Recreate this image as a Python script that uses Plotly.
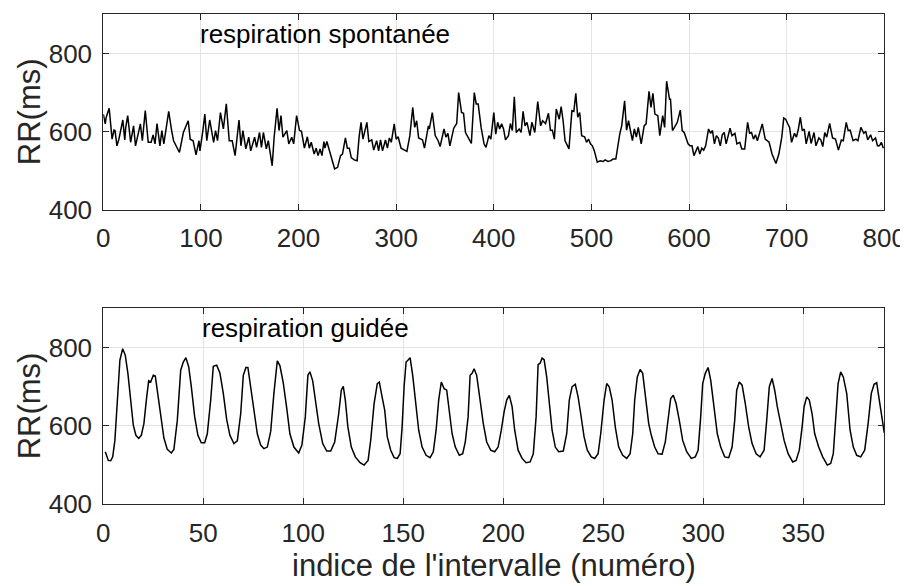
import plotly.graph_objects as go

# ---------------- data: spontaneous breathing (top) ----------------
spont_idx = [0, 2, 3, 6, 9, 11, 12, 14, 16, 18, 20, 22, 23, 25, 28, 31, 33, 38, 40, 43,
             46, 49, 51, 53, 55, 58, 60, 62, 63, 67, 70, 72, 78, 82, 87, 89, 92, 95, 98, 99,
             102, 104, 106, 109, 113, 115, 117, 120, 123, 126, 129, 132, 135, 139, 141, 143,
             146, 149, 151, 155, 157, 160, 162, 164, 167, 169, 173, 175, 178, 180, 182, 184,
             188, 190, 193, 195, 198,
             201, 203, 206, 209, 211, 213, 214, 216, 218, 220, 222, 224, 226, 227, 229, 231,
             233, 235, 237, 240, 243, 245, 248, 250, 252, 254, 257, 260, 262, 264, 266, 268,
             270, 272, 275, 277, 280, 282, 284, 286, 289, 291, 293, 295, 298, 300, 302, 305,
             308, 311, 314, 317, 319, 321, 323, 327, 329, 333, 334, 337, 340, 343, 345, 349,
             351, 353, 355, 359, 362, 364, 367, 369, 371, 375, 377, 380, 382, 384, 387, 390,
             392, 395, 397,
             400, 402, 404, 406, 408, 410, 412, 415, 417, 419, 421, 423, 426, 428, 430, 432,
             434, 437, 439, 442, 445, 448, 450, 453, 456, 458, 460, 462, 464, 467, 469, 471,
             473, 477, 480, 482, 484, 486, 488, 490, 493, 495, 497, 499, 501, 503, 506, 509,
             512, 514, 517, 520, 522, 525, 529, 531, 534, 536, 538, 542, 544, 546, 548, 551,
             554, 556, 559, 561, 563, 565, 568, 570, 573, 575, 577, 580, 581, 583, 585, 588,
             591, 593, 595,
             599, 601, 603, 605, 607, 609, 611, 613, 615, 617, 620, 622, 624, 626, 628, 630,
             632, 634, 636, 638, 642, 644, 647, 649, 652, 654, 657, 660, 662, 664, 666, 668,
             670, 672, 675, 678, 680, 682, 685, 689, 692, 694, 695, 697, 699, 701, 703, 705,
             708, 710, 712, 714, 716, 718, 720, 723, 725, 728, 730, 733, 735, 737, 739, 741,
             744, 747, 750, 753, 756, 758, 761, 763, 765, 768, 771, 773, 776, 779, 781, 783,
             786, 788, 791, 793, 795, 797, 799]
spont_rr = [645, 620, 637, 660, 581, 604, 603, 564, 581, 603, 630, 579, 611, 641, 573, 615, 564, 620, 577, 654,
            573, 573, 592, 569, 621, 564, 603, 569, 587, 652, 603, 577, 547, 598, 628, 581, 577, 541, 577, 551,
            603, 645, 577, 630, 573, 603, 577, 649, 607, 671, 577, 577, 539, 630, 564, 603,
            556, 586, 551, 586, 560, 598, 560, 598, 556, 577, 513, 586, 660, 603, 641, 586,
            603, 569, 586, 569, 641,
            603, 601, 558, 587, 558, 573, 564, 543, 558, 539, 556, 539, 575, 558, 575, 556,
            534, 522, 505, 509, 539, 543, 584, 558, 558, 534, 528, 526, 586, 624, 581, 607,
            624, 575, 579, 553, 577, 551, 579, 551, 579, 558, 584, 573, 620, 581, 587, 558,
            553, 550, 590, 662, 611, 628, 584, 579, 558, 615, 607, 649, 590, 577, 562, 607,
            586, 596, 564, 609, 621, 700, 649, 647, 598, 577, 570, 700, 671, 671, 611, 569,
            560, 590, 581,
            649, 594, 624, 607, 620, 607, 579, 590, 621, 603, 689, 598, 607, 598, 652, 615,
            624, 590, 624, 598, 677, 615, 628, 621, 647, 604, 604, 581, 658, 632, 664, 628,
            577, 556, 654, 652, 698, 637, 649, 590, 587, 573, 581, 569, 564, 551, 522, 526,
            524, 528, 524, 526, 530, 530, 594, 615, 679, 604, 628, 577, 607, 586, 611, 569,
            615, 620, 703, 662, 698, 645, 641, 590, 641, 611, 729, 683, 683, 603, 611, 624,
            655, 603, 598,
            569, 564, 564, 539, 551, 562, 543, 558, 553, 564, 607, 596, 603, 569, 590, 584,
            564, 592, 598, 569, 609, 590, 596, 569, 573, 556, 556, 624, 596, 598, 581, 592,
            577, 596, 620, 581, 577, 573, 543, 519, 543, 577, 586, 635, 632, 621, 611, 573,
            596, 586, 607, 637, 603, 607, 569, 601, 570, 598, 564, 584, 579, 562, 598, 586,
            621, 584, 581, 553, 579, 577, 624, 603, 604, 577, 581, 577, 611, 596, 601, 579,
            592, 577, 584, 564, 564, 573, 558]

# ---------------- data: paced breathing (bottom) ----------------
guided_idx = [1.0, 2.5, 3.7, 4.7, 5.8, 7.0, 8.3, 9.7, 11.0, 12.3, 13.7, 15.0, 16.3, 17.7, 19.0,
              20.3, 21.7, 22.7, 23.7, 25.0, 26.0, 27.3, 28.7, 30.3, 32.0, 34.0, 35.3, 37.0,
              38.7, 40.0, 41.3, 42.7, 44.0, 45.7, 47.3, 49.0, 50.7, 52.0, 53.7, 55.0, 56.7,
              58.3, 60.0, 61.7, 63.3, 65.3, 67.0, 68.7, 70.0, 71.3, 72.3, 73.7, 75.3, 77.0,
              78.7, 80.3, 82.0, 83.7, 85.3, 87.0, 88.3, 90.0, 91.7, 93.3, 95.3, 97.7, 99.3,
              101.0, 102.3, 103.3, 104.7, 106.0, 107.7, 109.7, 111.7, 113.7, 115.7, 117.7,
              119.0, 120.0, 121.0, 122.3, 124.0, 126.0, 128.4, 130.4, 132.4, 133.7, 135.4,
              137.0, 138.0, 139.4, 140.7, 142.0, 143.7, 145.4, 147.0, 148.4, 149.4, 150.4,
              151.4, 152.4, 153.4, 154.7, 156.0, 157.7, 159.4, 161.4, 163.4, 165.0, 166.4,
              167.7, 169.0, 170.4, 171.7, 173.0, 174.4, 176.0, 178.0, 179.7, 181.0, 182.4,
              183.4, 184.4, 185.4, 186.7, 188.4, 190.0, 191.7, 193.7, 195.7, 197.4, 199.0,
              200.4, 201.7, 203.0, 204.4, 205.7, 207.4, 209.4, 211.4, 213.4, 215.0, 216.4,
              217.4, 218.4, 219.4, 220.4, 221.7, 223.0, 224.4, 226.0, 227.7, 230.0, 231.7,
              233.0, 234.4, 236.0, 237.4, 238.7, 240.4, 242.0, 244.0, 245.7, 247.4, 248.7,
              250.4, 251.7, 253.0, 254.4, 256.0, 257.7, 259.7, 261.7, 263.4, 264.7, 265.7,
              267.0, 268.4, 269.7, 271.0, 272.7, 274.0, 275.7, 277.4, 279.4, 281.0, 282.4,
              283.7, 285.0, 286.4, 288.0, 289.7, 291.7, 294.0, 296.0, 297.4, 298.7, 299.7,
              301.0, 302.4, 303.7, 305.4, 307.0, 308.7, 310.7, 312.7, 314.4, 315.7, 316.7,
              318.0, 319.4, 321.0, 322.7, 324.4, 326.4, 328.4, 330.4, 331.7, 333.0, 334.4,
              335.7, 337.0, 338.7, 340.4, 342.4, 344.7, 346.4, 348.0, 349.4, 350.4, 351.7,
              353.0, 354.4, 355.7, 357.7, 359.7, 362.0, 363.7, 365.0, 366.4, 367.4, 368.7,
              370.0, 371.7, 373.4, 375.0, 376.7, 378.7, 380.7, 382.4, 384.0, 385.4, 386.7,
              388.0, 389.4, 390.5]
guided_rr = [534, 512, 511, 521, 563, 666, 768, 797, 780, 734, 657, 602, 576, 568, 576,
             606, 674, 715, 712, 729, 727, 683, 627, 569, 540, 531, 540, 614,
             742, 763, 774, 751, 700, 623, 576, 557, 557, 580, 666, 752, 755,
             735, 683, 616, 576, 555, 562, 631, 729, 749, 749, 695, 636, 580,
             551, 542, 546, 586, 683, 766, 754, 709, 646, 580, 546, 531, 551,
             623, 729, 738, 715, 666, 606, 555, 536, 536, 559, 631,
             691, 701, 666, 597, 546, 521, 506, 500, 512, 563, 657,
             708, 712, 674, 640, 572, 538, 519, 517, 529, 597, 700,
             763, 768, 774, 729, 666, 589, 546, 525, 519, 534, 589,
             666, 712, 695, 691, 640, 580, 546, 525, 529, 559, 623,
             729, 734, 746, 729, 666, 606, 559, 538, 534, 546, 589,
             636, 666, 678, 649, 589, 538, 517, 506, 508, 529, 623,
             756, 760, 773, 769, 725, 657, 589, 546, 534, 536, 580,
             666, 700, 706, 674, 631, 572, 538, 521, 517, 529, 580,
             666, 708, 699, 666, 597, 546, 525, 517, 529, 580, 666,
             725, 744, 734, 683, 606, 576, 546, 529, 528, 559, 623,
             670, 678, 657, 614, 563, 534, 517, 521, 538, 623, 708,
             734, 749, 717, 649, 580, 546, 521, 519, 546, 614, 691,
             712, 704, 657, 597, 555, 529, 521, 538, 614, 700, 721,
             691, 649, 606, 563, 529, 508, 512, 538, 597, 649, 674,
             666, 631, 580, 546, 521, 500, 504, 529, 631, 708, 738,
             725, 683, 589, 546, 525, 521, 538, 606, 683, 706, 710,
             666, 614, 582]

top_xticks = [0, 100, 200, 300, 400, 500, 600, 700, 800]
bottom_xticks = [0, 50, 100, 150, 200, 250, 300, 350]
y_ticks = [400, 600, 800]
y_label = "RR(ms)"
x_label = "indice de l'intervalle (numéro)"
top_text = "respiration spontanée"
bottom_text = "respiration guidée"

FONT = "Liberation Sans, Arial, sans-serif"
AXC = "#262626"
GRID = "#e3e3e3"

fig = go.Figure()
fig.add_trace(go.Scatter(x=spont_idx, y=spont_rr, mode="lines",
                         line=dict(color="black", width=1.5), xaxis="x", yaxis="y",
                         showlegend=False))
fig.add_trace(go.Scatter(x=guided_idx, y=guided_rr, mode="lines",
                         line=dict(color="black", width=1.5), xaxis="x2", yaxis="y2",
                         showlegend=False))

# page body has an 8px margin: figure is 900x578 and shifted by 8px
W, H = 900, 578
OFF = 8
xdom = [(103.3 - OFF) / W, (884.3 - OFF) / W]
top_dom = [1 - (210 - OFF) / H, 1 - (14.3 - OFF) / H]
bot_dom = [1 - (504.3 - OFF) / H, 1 - (308.3 - OFF) / H]

common_ax = dict(showline=True, linecolor=AXC, linewidth=1, mirror="ticks",
                 ticks="inside", ticklen=6, tickcolor=AXC, showgrid=True,
                 gridcolor=GRID, gridwidth=1, zeroline=False, automargin=False,
                 tickfont=dict(family=FONT, size=26, color=AXC))

fig.update_layout(
    width=W, height=H, margin=dict(l=0, r=0, t=0, b=0),
    paper_bgcolor="white", plot_bgcolor="white",
    xaxis=dict(domain=xdom, anchor="y", range=[0, 800], tickvals=top_xticks,
               ticklabelstandoff=5, **common_ax),
    yaxis=dict(domain=top_dom, anchor="x", range=[400, 900], tickvals=y_ticks,
               ticklabelstandoff=5, **common_ax),
    xaxis2=dict(domain=xdom, anchor="y2", range=[0, 390.5], tickvals=bottom_xticks,
                ticklabelstandoff=5, **common_ax),
    yaxis2=dict(domain=bot_dom, anchor="x2", range=[400, 900], tickvals=y_ticks,
                ticklabelstandoff=5, **common_ax),
)

fig.add_annotation(x=100, y=850, xref="x", yref="y", text=top_text, showarrow=False,
                   xanchor="left", yanchor="middle", xshift=-3,
                   font=dict(family=FONT, size=26, color="black"))
fig.add_annotation(x=50, y=850, xref="x2", yref="y2", text=bottom_text, showarrow=False,
                   xanchor="left", yanchor="middle", xshift=-3,
                   font=dict(family=FONT, size=26, color="black"))

for dom in (top_dom, bot_dom):
    fig.add_annotation(x=(29 - OFF) / W, y=(dom[0] + dom[1]) / 2, xref="paper", yref="paper",
                       text=y_label, showarrow=False, textangle=-90,
                       xanchor="center", yanchor="middle",
                       font=dict(family=FONT, size=31, color=AXC))

fig.add_annotation(x=(xdom[0] + xdom[1]) / 2, y=1 - (565 - OFF) / H, xref="paper", yref="paper",
                   text=x_label, showarrow=False, xanchor="center", yanchor="middle",
                   font=dict(family=FONT, size=31, color=AXC))

fig.write_html("out.html")
